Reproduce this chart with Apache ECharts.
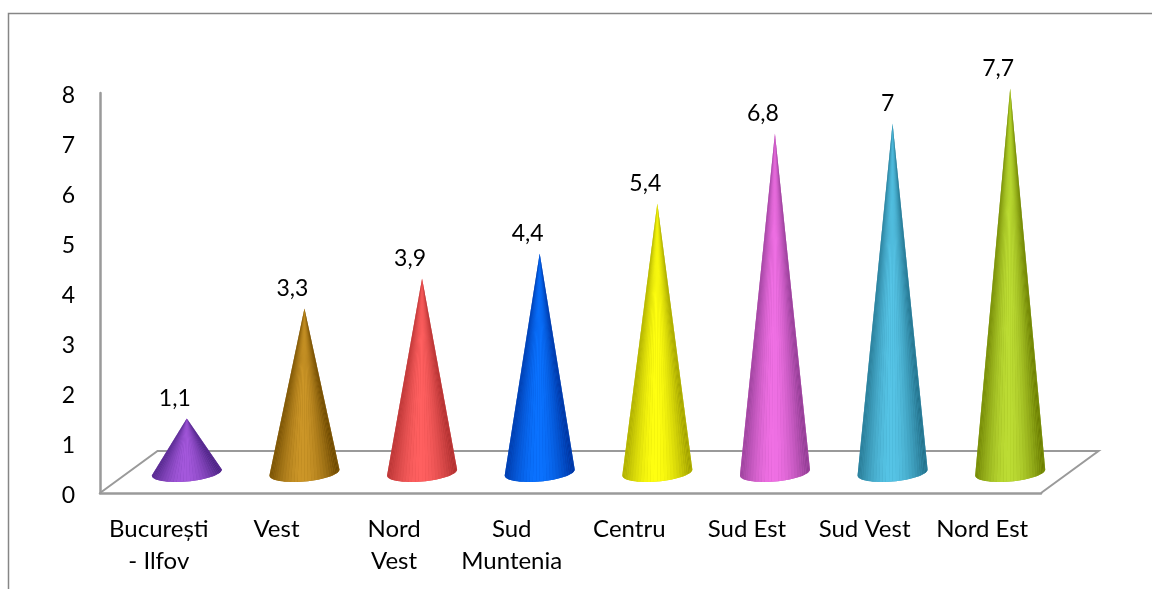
<!DOCTYPE html>
<html>
<head>
<meta charset="utf-8">
<style>html,body{margin:0;padding:0;background:#fff}#c{width:1152px;height:589px}</style>
<script src="https://cdn.jsdelivr.net/npm/echarts@6/dist/echarts.min.js"></script>
</head>
<body>
<div id="c"></div>
<script>
const categories = ['București\n- Ilfov', 'Vest', 'Nord\nVest', 'Sud\nMuntenia', 'Centru', 'Sud Est', 'Sud Vest', 'Nord Est'];
const values = [1.1, 3.3, 3.9, 4.4, 5.4, 6.8, 7, 7.7];
const tickLabelsMax = 8;

const edgeColors = ['#4c2484', '#6c4800', '#b03030', '#0034a0', '#a0a000', '#8f3c92', '#22708a', '#6a7c00'];
const lightColors = ['#a458dc', '#cc9628', '#ff6060', '#0a72ff', '#ffff10', '#f070e4', '#56c4e6', '#bcdc34'];

const FONT = 'Lato, Carlito, "Open Sans", sans-serif';
const DEPTH_X = 28, DEPTH_Y = 20.5, RX = 35, RY = 9, TILT = 3, FLOOR_X = 57.5, FLOOR_Y = 42, WEDGES = 32;

function cone(params, api) {
  const i = api.value(0), v = api.value(1);
  const top = api.coord([i, v]), base = api.coord([i, 0]);
  const cx = top[0] + DEPTH_X, ax = top[1] - DEPTH_Y + 1, by = base[1] - DEPTH_Y;
  const rim = t => [cx + RX * Math.cos(t), by + RY * Math.sin(t) - TILT * Math.cos(t)];
  const outline = [[cx, ax]];
  for (let k = 0; k <= WEDGES; k++) outline.push(rim(k / WEDGES * Math.PI));
  const children = [{
    type: 'polygon',
    shape: { points: outline },
    style: { fill: echarts.color.lerp(0.6, [edgeColors[i], lightColors[i]]) }
  }];
  for (let k = 0; k < WEDGES; k++) {
    const t0 = k / WEDGES * Math.PI, t1 = (k + 1) / WEDGES * Math.PI;
    const u = Math.cos((t0 + t1) / 2);
    const f = Math.max(0, 1 - Math.pow(Math.abs(u + 0.05), 1.8));
    children.push({
      type: 'polygon',
      shape: { points: [[cx, ax], rim(t0), rim(t1)] },
      style: { fill: echarts.color.lerp(f, [edgeColors[i], lightColors[i]]) }
    });
  }
  children.push({
    type: 'text',
    style: {
      text: String(v).replace('.', ','), x: v === 7 ? cx - 5 : cx - 12, y: ax - 20,
      align: 'center', verticalAlign: 'middle',
      font: '23px ' + FONT, fill: '#000'
    }
  });
  return { type: 'group', children: children };
}

function floor(params, api) {
  const band = api.size([1, 0])[0];
  const a0 = api.coord([0, 0]), b0 = api.coord([categories.length - 1, 0]);
  const a = [a0[0] - band / 2, a0[1]], b = [b0[0] + band / 2, b0[1]];
  return {
    type: 'polyline',
    shape: { points: [a, [a[0] + FLOOR_X, a[1] - FLOOR_Y], [b[0] + FLOOR_X, b[1] - FLOOR_Y], b] },
    style: { stroke: '#9a9a9a', lineWidth: 2, fill: 'none' }
  };
}

const chart = echarts.init(document.getElementById('c'), null, { renderer: 'canvas' });
chart.setOption({
  animation: false,
  backgroundColor: '#fff',
  graphic: [
    { type: 'polyline', silent: true, shape: { points: [[8.5, 589], [8.5, 13.5], [1152, 13.5]] },
      style: { stroke: '#868686', lineWidth: 1.5, fill: 'none' } }
  ],
  grid: { left: 100, right: 111, top: 93, bottom: 96 },
  xAxis: {
    type: 'category', data: categories,
    axisTick: { show: false },
    axisLine: { show: true, lineStyle: { color: '#9a9a9a', width: 2.5 } },
    axisLabel: { color: '#000', fontFamily: FONT, fontSize: 24, margin: 20, lineHeight: 32, interval: 0 }
  },
  yAxis: {
    type: 'value', min: 0, max: tickLabelsMax, interval: 1,
    splitLine: { show: false },
    axisTick: { show: false },
    axisLine: { show: true, lineStyle: { color: '#9a9a9a', width: 2.5 } },
    axisLabel: {
      margin: 25,
      formatter: '{n|{value}}',
      rich: { n: { color: '#000', fontFamily: FONT, fontSize: 23, padding: [6, 0, 0, 0] } }
    }
  },
  series: [
    { type: 'custom', name: 'floor', renderItem: floor, data: [[0, 0]], z: 1, silent: true },
    { type: 'custom', name: 'values', renderItem: cone, data: values.map((v, i) => [i, v]), z: 2, silent: true,
      encode: { x: 0, y: 1 } }
  ]
});
</script>
</body>
</html>
